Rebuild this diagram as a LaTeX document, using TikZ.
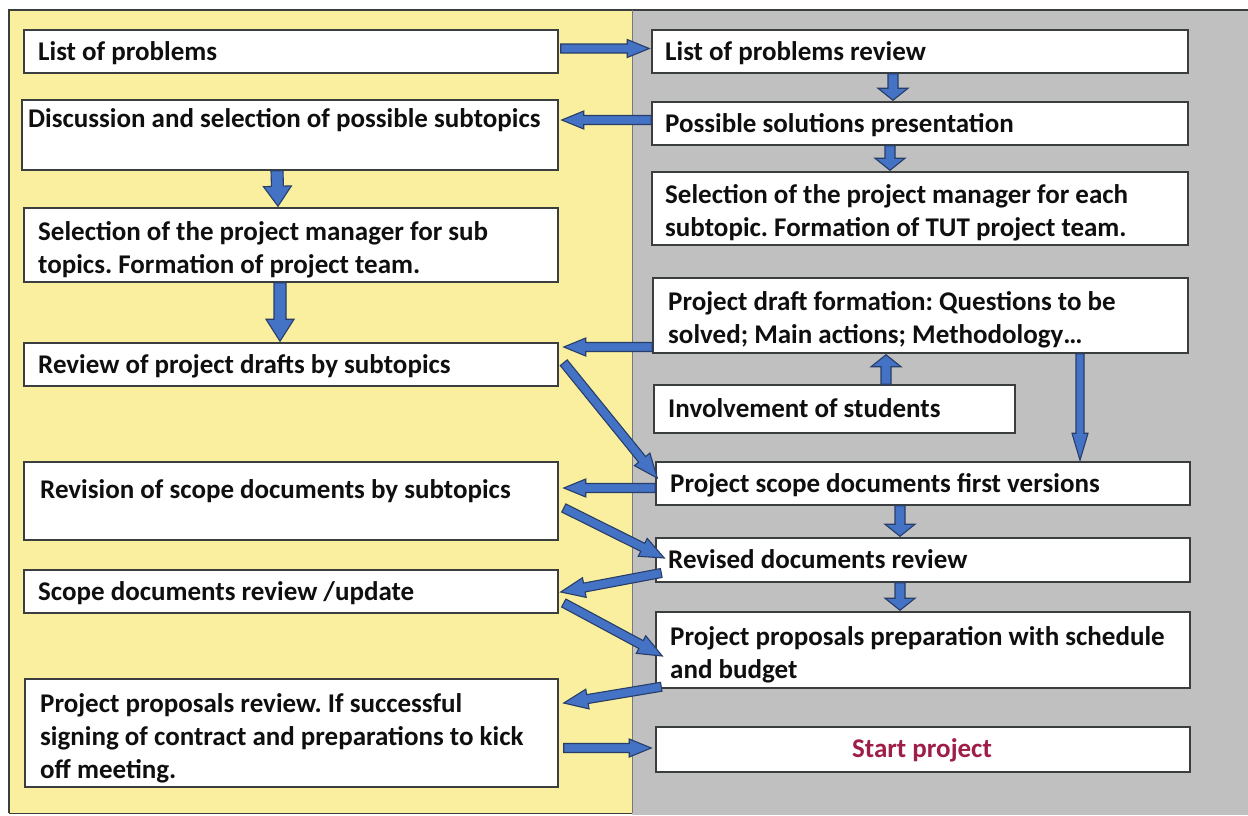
\documentclass[tikz,border=0pt]{standalone}
\usepackage{fontspec}
\setmainfont{Carlito}
\usetikzlibrary{calc}
\frenchspacing
\definecolor{ybg}{RGB}{249,239,158}
\definecolor{gbg}{RGB}{192,192,192}
\definecolor{afill}{RGB}{68,114,196}
\definecolor{aline}{RGB}{40,62,105}
\definecolor{bline}{RGB}{58,62,62}
\definecolor{txt}{RGB}{15,15,15}
\definecolor{startc}{RGB}{158,30,72}
\newcommand\ml[1]{\begin{tabular}[t]{@{}l@{}}#1\end{tabular}}
\def\asw{5pt}\def\ahw{15pt}\def\ahl{12pt}
\tikzset{
  box/.style={draw=bline, fill=white, line width=1.5pt, inner sep=0pt, rectangle},
  lbl/.style={inner sep=0pt, text=txt, font=\fontsize{27}{33}\selectfont\bfseries, anchor=base west},
  aw/.style n args={3}{/utils/exec={\def\asw{#1}\def\ahw{#2}\def\ahl{#3}}},
  barrow/.style={fill=afill, draw=aline, line width=1.1pt, line join=miter,
    to path={let \p1=(\tikztostart), \p2=(\tikztotarget),
      \n1={atan2(\y2-\y1,\x2-\x1)}, \n2={veclen(\x2-\x1,\y2-\y1)} in
      ($(\p1)+(\n1+90:\asw)$)
      -- ($(\p1)+(\n1:\n2-\ahl)+(\n1+90:\asw)$)
      -- ($(\p1)+(\n1:\n2-\ahl)+(\n1+90:\ahw)$)
      -- (\p2)
      -- ($(\p1)+(\n1:\n2-\ahl)+(\n1-90:\ahw)$)
      -- ($(\p1)+(\n1:\n2-\ahl)+(\n1-90:\asw)$)
      -- ($(\p1)+(\n1-90:\asw)$) -- cycle}},
  harrow/.style={barrow, aw={4.5pt}{9pt}{22pt}},
  varrow/.style={barrow, aw={5pt}{15pt}{12pt}},
  darrow/.style={barrow, aw={4.5pt}{10pt}{24pt}},
}
\begin{document}
\begin{tikzpicture}[x=1pt,y=-1pt]
\useasboundingbox (0,0) rectangle (1248,815);
% background panels
\fill[ybg] (9,10) rectangle (632,813);
\fill[gbg] (632,10) rectangle (1248,815);
\draw[bline, line width=1.4pt] (9,813) -- (9,10) -- (1248,10);
\draw[bline, line width=0.8pt] (9,813) -- (632,813);
\draw[bline!70, line width=0.8pt] (632,10) -- (632,813);
% left boxes
\node[box, minimum width=534pt, minimum height=43pt] (L1) at (291,51.5) {};
\node[box, minimum width=536pt, minimum height=70pt] (L2) at (290,135) {};
\node[box, minimum width=534pt, minimum height=74pt] (L3) at (291,245) {};
\node[box, minimum width=534pt, minimum height=43pt] (L4) at (291,364.5) {};
\node[box, minimum width=534pt, minimum height=78pt] (L5) at (291,501) {};
\node[box, minimum width=534pt, minimum height=43pt] (L6) at (291,591.5) {};
\node[box, minimum width=533pt, minimum height=108pt] (L7) at (291.5,733) {};
% right boxes
\node[box, minimum width=536pt, minimum height=43pt] (R1) at (920,51.5) {};
\node[box, minimum width=536pt, minimum height=43pt] (R2) at (920,123.5) {};
\node[box, minimum width=536pt, minimum height=73pt] (R3) at (920,208.5) {};
\node[box, minimum width=535pt, minimum height=75pt] (R4) at (920.5,315.5) {};
\node[box, minimum width=361pt, minimum height=48pt] (R5) at (834.5,409) {};
\node[box, minimum width=534pt, minimum height=43pt] (R6) at (923,483.5) {};
\node[box, minimum width=534pt, minimum height=44pt] (R7) at (923,560) {};
\node[box, minimum width=534pt, minimum height=76pt] (R8) at (923,650) {};
\node[box, minimum width=534pt, minimum height=45pt] (R9) at (923,749.5) {};
% labels
\node[lbl] (L1t) at (38,60) {List of problems};
\node[lbl] (L2t) at (28,127) {Discussion and selection of possible subtopics};
\node[lbl] (L3t) at (38,240) {\ml{Selection of the project manager for sub\\topics. Formation of project team.}};
\node[lbl] (L4t) at (38,373) {Review of project drafts by subtopics};
\node[lbl] (L5t) at (40,498) {Revision of scope documents by subtopics};
\node[lbl] (L6t) at (38,600) {Scope documents review /update};
\node[lbl] (L7t) at (40,712) {\ml{Project proposals review. If successful\\signing of contract and preparations to kick\\off meeting.}};
\node[lbl] (R1t) at (665,60) {List of problems review};
\node[lbl] (R2t) at (665,132) {Possible solutions presentation};
\node[lbl] (R3t) at (665,203) {\ml{Selection of the project manager for each\\subtopic. Formation of TUT project team.}};
\node[lbl] (R4t) at (668,310) {\ml{Project draft formation: Questions to be\\solved; Main actions; Methodology…}};
\node[lbl] (R5t) at (668,417) {Involvement of students};
\node[lbl] (R6t) at (670,492) {Project scope documents first versions};
\node[lbl] (R7t) at (668,568) {Revised documents review};
\node[lbl] (R8t) at (670,645) {\ml{Project proposals preparation with schedule\\and budget}};
\node[lbl, anchor=base, text=startc] (R9t) at (922,757) {Start project};
% arrows
\draw[harrow] ($(L1.east)+(2,-3)$) to ($(R1.west)+(-2,-3)$);
\draw[varrow] ($(R1.south)+(-27,0)$) to ($(R2.north)+(-27,-1)$);
\draw[harrow] ($(R2.west)+(0,-3.5)$) to ($(L2.east)+(3,-15)$);
\draw[varrow] ($(R2.south)+(-30,0)$) to ($(R3.north)+(-30,-1)$);
\draw[barrow, aw={6pt}{14pt}{20pt}] ($(L2.south)+(-13,0)$) to ($(L3.north)+(-13,-1)$);
\draw[barrow, aw={6pt}{14pt}{22pt}] ($(L3.south)+(-11,0)$) to ($(L4.north)+(-11,-1)$);
\draw[harrow] ($(R4.west)+(0,31.5)$) to ($(L4.east)+(5,-17.5)$);
\draw[varrow] ($(R5.north)+(51.5,0)$) to ($(R4.south)+(-34.5,1)$);
\draw[barrow, aw={4pt}{8pt}{27pt}] ($(R4.south)+(159.5,0)$) to ($(R6.north)+(157,-1)$);
\draw[darrow] ($(L4.south east)+(5,-24)$) to ($(R6.west)+(2,-5.5)$);
\draw[harrow] ($(R6.west)+(0,4.5)$) to ($(L5.east)+(5,-13)$);
\draw[varrow] ($(R6.south)+(-23,0)$) to ($(R7.north)+(-23,-1)$);
\draw[darrow] ($(L5.east)+(5,7)$) to ($(R7.west)+(9,-2)$);
\draw[darrow] ($(R7.west)+(6,13)$) to ($(L6.east)+(2,0.5)$);
\draw[varrow] ($(R7.south)+(-23,0)$) to ($(R8.north)+(-23,-1)$);
\draw[darrow] ($(L6.east)+(5,11.5)$) to ($(R8.west)+(7,6)$);
\draw[darrow] ($(R8.south west)+(6,-2)$) to ($(L7.east)+(5,-30)$);
\draw[harrow] ($(L7.east)+(5,15)$) to ($(R9.west)+(-4,-1.5)$);
\end{tikzpicture}
\end{document}
